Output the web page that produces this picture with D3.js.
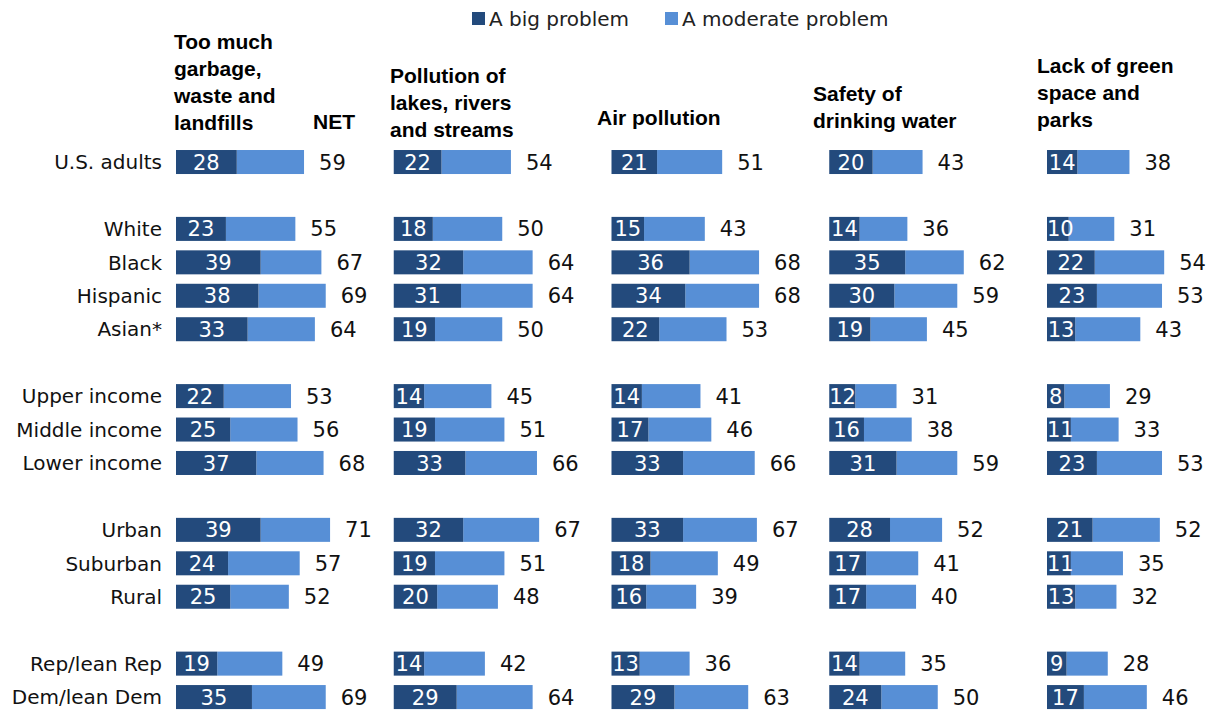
<!DOCTYPE html>
<html><head><meta charset="utf-8">
<script src="https://cdn.jsdelivr.net/npm/d3@7"></script>
<style>
body{margin:0;background:#fff;}
svg{display:block;}
</style></head>
<body>
<svg id="chart" width="1213" height="711"></svg>
<script>
// ---- data ----
const categories = ["U.S. adults","White","Black","Hispanic","Asian*","Upper income","Middle income","Lower income","Urban","Suburban","Rural","Rep/lean Rep","Dem/lean Dem"];
// slot index of each category (gaps between groups)
const slots = [0,2,3,4,5,7,8,9,11,12,13,15,16];
const topics = [
  ["Too much","garbage,","waste and","landfills"],
  ["Pollution of","lakes, rivers","and streams"],
  ["Air pollution"],
  ["Safety of","drinking water"],
  ["Lack of green","space and","parks"]
];
const garbageBig = [28,23,39,38,33,22,25,37,39,24,25,19,35];
const garbageNet = [59,55,67,69,64,53,56,68,71,57,52,49,69];
const lakesBig   = [22,18,32,31,19,14,19,33,32,19,20,14,29];
const lakesNet   = [54,50,64,64,50,45,51,66,67,51,48,42,64];
const airBig     = [21,15,36,34,22,14,17,33,33,18,16,13,29];
const airNet     = [51,43,68,68,53,41,46,66,67,49,39,36,63];
const waterBig   = [20,14,35,30,19,12,16,31,28,17,17,14,24];
const waterNet   = [43,36,62,59,45,31,38,59,52,41,40,35,50];
const greenBig   = [14,10,22,23,13, 8,11,23,21,11,13, 9,17];
const greenNet   = [38,31,54,53,43,29,33,53,52,35,32,28,46];
const legendLabels = ["A big problem","A moderate problem"];
const netLabel = "NET";

const bigSeries = [garbageBig, lakesBig, airBig, waterBig, greenBig];
const netSeries = [garbageNet, lakesNet, airNet, waterNet, greenNet];

// ---- layout ----
const colDark = "#234a7c", colLight = "#578fd6";
const svg = d3.select("#chart");
const regFont = "'DejaVu Sans', sans-serif";
const boldFont = "'Liberation Sans', Arial, sans-serif";

const slotIds = d3.range(17).map(String);
const y = d3.scaleBand().domain(slotIds).range([145.3, 145.3 + 17*33.44]).paddingInner(0.282).paddingOuter(0.141);
const colX = d3.scaleLinear().domain([0,4]).range([176, 1047]);
const x = d3.scaleLinear().domain([0,100]).range([0,217]);

// row labels
svg.append("g").selectAll("text").data(categories).join("text")
  .attr("x", 162)
  .attr("y", (d,i)=> y(String(slots[i])) + y.bandwidth()/2)
  .attr("dy", "0.36em")
  .attr("text-anchor","end")
  .attr("font-family", regFont).attr("font-size", 20).attr("fill","#111")
  .text(d=>d);

// headers
const headerBottom = [130, 137, 125, 128, 127];
const headerX = [174, 390, 597, 813, 1037];
topics.forEach((lines, c)=>{
  const g = svg.append("g");
  lines.forEach((ln, k)=>{
    g.append("text")
      .attr("x", headerX[c])
      .attr("y", headerBottom[c] - (lines.length-1-k)*27)
      .attr("font-family", boldFont).attr("font-weight","bold").attr("font-size", 21)
      .attr("fill","#000").text(ln);
  });
});
svg.append("text").attr("x", 313).attr("y", 129)
  .attr("font-family", boldFont).attr("font-weight","bold").attr("font-size", 21)
  .attr("fill","#000").text(netLabel);

// legend
const legX = [472, 665];
legendLabels.forEach((l,i)=>{
  svg.append("rect").attr("x", legX[i]).attr("y", 12).attr("width", 13).attr("height", 13)
    .attr("fill", i===0?colDark:colLight);
  svg.append("text").attr("x", legX[i]+17).attr("y", 26)
    .attr("font-family", regFont).attr("font-size", 20).attr("fill","#222").text(l);
});

// bars
for (let c=0;c<5;c++){
  const g = svg.append("g").attr("transform", `translate(${colX(c)},0)`);
  const rows = categories.map((cat,i)=>({cat, slot:String(slots[i]), big:bigSeries[c][i], net:netSeries[c][i]}));
  g.selectAll("rect.mod").data(rows).join("rect").attr("class","mod")
    .attr("x", d=>x(d.big)).attr("y", d=>y(d.slot))
    .attr("width", d=>x(d.net)-x(d.big)).attr("height", y.bandwidth())
    .attr("fill", colLight);
  g.selectAll("rect.big").data(rows).join("rect").attr("class","big")
    .attr("x", 0).attr("y", d=>y(d.slot))
    .attr("width", d=>x(d.big)).attr("height", y.bandwidth())
    .attr("fill", colDark);
  // inside labels
  g.selectAll("text.bl").data(rows).join("text").attr("class","bl")
    .attr("y", d=>y(d.slot)+y.bandwidth()/2).attr("dy","0.36em")
    .attr("text-anchor","middle")
    .attr("font-family", regFont).attr("font-size", 21).attr("fill","#fff")
    .text(d=>d.big)
    .attr("x", function(d){
      const w = this.getComputedTextLength();
      return Math.max(x(d.big)/2, w/2);
    });
  // net labels
  g.selectAll("text.nl").data(rows).join("text").attr("class","nl")
    .attr("x", d=>x(d.net)+15)
    .attr("y", d=>y(d.slot)+y.bandwidth()/2).attr("dy","0.36em")
    .attr("font-family", regFont).attr("font-size", 21).attr("fill","#111")
    .text(d=>d.net);
}
</script>
</body></html>
